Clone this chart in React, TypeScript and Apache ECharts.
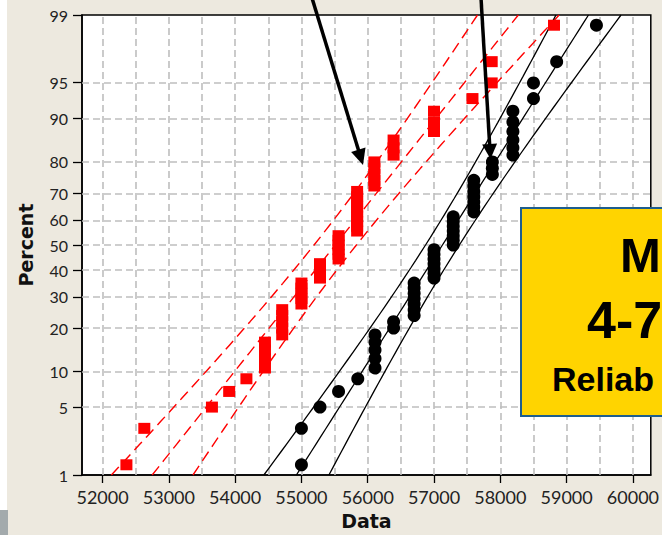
import React, { useEffect, useRef } from "react";
import * as echarts from "echarts";

// ---- data ----
const xLabelValues = [52000, 53000, 54000, 55000, 56000, 57000, 58000, 59000, 60000];
const xGridValues = [52000, 52500, 53000, 53500, 54000, 54500, 55000, 55500, 56000, 56500, 57000, 57500, 58000, 58500, 59000, 59500, 60000];
const percentTicks = [1, 5, 10, 20, 30, 40, 50, 60, 70, 80, 90, 95, 99];

const redValues = [
  52360, 52630, 53650, 53910, 54170,
  54450, 54450, 54450, 54450,
  54710, 54710, 54710, 54710, 54710,
  55000, 55000, 55000, 55000, 55000,
  55280, 55280, 55280, 55280,
  55560, 55560, 55560, 55560, 55560, 55560,
  55840, 55840, 55840, 55840, 55840, 55840, 55840, 55840, 55840,
  56100, 56100, 56100, 56100, 56100,
  56390, 56390, 56390,
  57000, 57000, 57000,
  57580, 57870, 57870, 58810,
];
const blackValues = [
  55000, 55000, 55280, 55560, 55850,
  56110, 56110, 56110, 56110, 56110,
  56390, 56390,
  56700, 56700, 56700, 56700, 56700, 56700, 56700,
  57000, 57000, 57000, 57000, 57000, 57000, 57000,
  57290, 57290, 57290, 57290, 57290, 57290, 57290,
  57600, 57600, 57600, 57600, 57600, 57600, 57600,
  57880, 57880, 57880,
  58190, 58190, 58190, 58190, 58190, 58190,
  58500, 58500,
  58850, 59450,
];
const redMean = 55510;
const redSd = 1187;
const blackMean = 57127;
const blackSd = 947;

// ---- helpers ----
function normInv(p: number): number {
  const a = [-3.969683028665376e1, 2.209460984245205e2, -2.759285104469687e2, 1.38357751867269e2, -3.066479806614716e1, 2.506628277459239];
  const b = [-5.447609879822406e1, 1.615858368580409e2, -1.556989798598866e2, 6.680131188771972e1, -1.328068155288572e1];
  const c = [-7.784894002430293e-3, -3.223964580411365e-1, -2.400758277161838, -2.549671635040114, 4.374664141464968, 2.938163982698783];
  const d = [7.784695709041462e-3, 3.224671290700398e-1, 2.445134137142996, 3.754408661907416];
  const pl = 0.02425;
  let q: number, r: number;
  if (p < pl) {
    q = Math.sqrt(-2 * Math.log(p));
    return (((((c[0] * q + c[1]) * q + c[2]) * q + c[3]) * q + c[4]) * q + c[5]) / ((((d[0] * q + d[1]) * q + d[2]) * q + d[3]) * q + 1);
  }
  if (p <= 1 - pl) {
    q = p - 0.5;
    r = q * q;
    return ((((((a[0] * r + a[1]) * r + a[2]) * r + a[3]) * r + a[4]) * r + a[5]) * q) / (((((b[0] * r + b[1]) * r + b[2]) * r + b[3]) * r + b[4]) * r + 1);
  }
  q = Math.sqrt(-2 * Math.log(1 - p));
  return -(((((c[0] * q + c[1]) * q + c[2]) * q + c[3]) * q + c[4]) * q + c[5]) / ((((d[0] * q + d[1]) * q + d[2]) * q + d[3]) * q + 1);
}

const zMin = normInv(0.01);
const zMax = normInv(0.99);
const zTicks = percentTicks.map((p) => normInv(p / 100));

function plotPoints(vals: number[]) {
  const s = [...vals].sort((x, y) => x - y);
  const n = s.length;
  return s.map((v, i) => [v, normInv((i + 1 - 0.3) / (n + 0.4))]);
}

function fitLines(mean: number, sd: number, n: number) {
  const fit: number[][] = [];
  const lo: number[][] = [];
  const hi: number[][] = [];
  const steps = 60;
  for (let k = 0; k <= steps; k++) {
    const z = zMin + ((zMax - zMin) * k) / steps;
    const x = mean + z * sd;
    const half = ((1.96 * sd) / Math.sqrt(n)) * Math.sqrt(1 + (z * z) / 2);
    fit.push([x, z]);
    lo.push([x - half, z]);
    hi.push([x + half, z]);
  }
  return { fit, lo, hi };
}

export default function App() {
  const ref = useRef<HTMLDivElement>(null);
  useEffect(() => {
    if (!ref.current) return;
    const chart = echarts.init(ref.current, undefined, { renderer: "svg" });
    const red = fitLines(redMean, redSd, redValues.length);
    const blk = fitLines(blackMean, blackSd, blackValues.length);
    const redDash = { color: "#FF0000", width: 1.4, type: [11, 6] as number[] };
    const blkLine = { color: "#000000", width: 1.3, type: "solid" as const };
    const gridStyle = { color: "#BEBEBE", width: 1.6, type: [7, 4] as number[] };

    const lineSeries = (data: number[][], style: any) => ({
      type: "line",
      data,
      showSymbol: false,
      symbol: "none",
      lineStyle: style,
      silent: true,
      z: 6,
    });

    const arrow = (x1: number, y1: number, tx: number, ty: number, len: number, hw: number) => {
      const dx = tx - x1;
      const dy = ty - y1;
      const L = Math.sqrt(dx * dx + dy * dy);
      const ux = dx / L;
      const uy = dy / L;
      const bx = tx - ux * len;
      const by = ty - uy * len;
      const px = -uy * hw;
      const py = ux * hw;
      return [
        { type: "line", z: 100, shape: { x1, y1, x2: bx + ux * 2, y2: by + uy * 2 }, style: { stroke: "#000", lineWidth: 3.5 } },
        { type: "polygon", z: 100, shape: { points: [[tx, ty], [bx + px, by + py], [bx - px, by - py]] }, style: { fill: "#000" } },
      ];
    };

    chart.setOption({
      animation: false,
      backgroundColor: "#EDE9DF",
      grid: {
        left: 82,
        top: 15,
        right: 5,
        bottom: 59,
        show: true,
        backgroundColor: "#FFFFFF",
        borderColor: "#000000",
        borderWidth: 1.5,
      },
      xAxis: {
        type: "value",
        min: 51690,
        max: 60270,
        name: "Data",
        nameLocation: "middle",
        nameGap: 36,
        nameTextStyle: { fontFamily: "DejaVu Sans", fontWeight: "bold", fontSize: 19, color: "#111" },
        axisLine: { show: true, onZero: false, lineStyle: { color: "#000", width: 1.5 } },
        axisTick: { show: true, customValues: xLabelValues, length: 8, lineStyle: { color: "#000", width: 1.3 } },
        axisLabel: {
          customValues: xLabelValues,
          formatter: (v: number) => String(v),
          fontFamily: "Lato",
          fontSize: 18,
          color: "#222",
          margin: 13,
        },
        splitLine: { show: false },
      },
      yAxis: {
        type: "value",
        min: zMin,
        max: zMax,
        name: "Percent",
        nameLocation: "middle",
        nameGap: 47,
        nameRotate: 90,
        nameTextStyle: { fontFamily: "DejaVu Sans", fontWeight: "bold", fontSize: 19, color: "#111" },
        axisLine: { show: true, onZero: false, lineStyle: { color: "#000", width: 1.5 } },
        axisTick: { show: true, customValues: zTicks, length: 9, lineStyle: { color: "#000", width: 1.3 } },
        axisLabel: {
          customValues: zTicks,
          formatter: (v: number) => {
            let best = 0;
            for (let i = 0; i < zTicks.length; i++) if (Math.abs(zTicks[i] - v) < Math.abs(zTicks[best] - v)) best = i;
            return String(percentTicks[best]);
          },
          fontFamily: "Lato",
          fontSize: 16,
          color: "#222",
          margin: 14,
        },
        splitLine: { show: false },
      },
      series: [
        {
          type: "line",
          data: [],
          z: 1,
          silent: true,
          markLine: {
            z: 1,
            silent: true,
            symbol: ["none", "none"],
            label: { show: false },
            animation: false,
            lineStyle: gridStyle,
            data: [
              ...xGridValues.map((v) => ({ xAxis: v })),
              ...zTicks.slice(1, -1).map((z) => ({ yAxis: z })),
            ],
          },
        },
        lineSeries(red.lo, redDash),
        lineSeries(red.fit, redDash),
        lineSeries(red.hi, redDash),
        lineSeries(blk.lo, blkLine),
        lineSeries(blk.fit, blkLine),
        lineSeries(blk.hi, blkLine),
        {
          type: "scatter",
          data: plotPoints(redValues),
          symbol: "rect",
          symbolSize: [12, 11],
          itemStyle: { color: "#FF0000", opacity: 1, borderWidth: 0 },
          z: 10,
        },
        {
          type: "scatter",
          data: plotPoints(blackValues),
          symbol: "circle",
          symbolSize: 13,
          itemStyle: { color: "#000000", opacity: 1, borderWidth: 0 },
          z: 10,
        },
      ],
      graphic: [
        { type: "rect", z: 90, shape: { x: 0, y: 0, width: 7, height: 510 }, style: { fill: "#FFFFFF" } },
        { type: "rect", z: 90, shape: { x: 0, y: 510, width: 8, height: 25 }, style: { fill: "#A3AAAC" } },
        ...arrow(312, -2, 363, 165, 16, 7.5),
        ...arrow(481, -2, 490.5, 159, 15, 7.5),
        {
          type: "rect",
          z: 100,
          shape: { x: 521, y: 208, width: 160, height: 208 },
          style: { fill: "#FFD400", stroke: "#1E5E8E", lineWidth: 2 },
        },
        {
          type: "text",
          z: 101,
          x: 620,
          y: 230,
          style: { text: "M", fill: "#000", font: "bold 49px 'Liberation Sans', Arial, sans-serif" },
        },
        {
          type: "text",
          z: 101,
          x: 587,
          y: 294,
          style: { text: "4-7", fill: "#000", font: "bold 52px 'Liberation Sans', Arial, sans-serif" },
        },
        {
          type: "text",
          z: 101,
          x: 552,
          y: 362,
          style: { text: "Reliab", fill: "#000", font: "bold 34px 'Liberation Sans', Arial, sans-serif" },
        },
      ],
    });
    return () => chart.dispose();
  }, []);
  return <div ref={ref} style={{ position: "fixed", left: 0, top: 0, width: 662, height: 535 }} />;
}
